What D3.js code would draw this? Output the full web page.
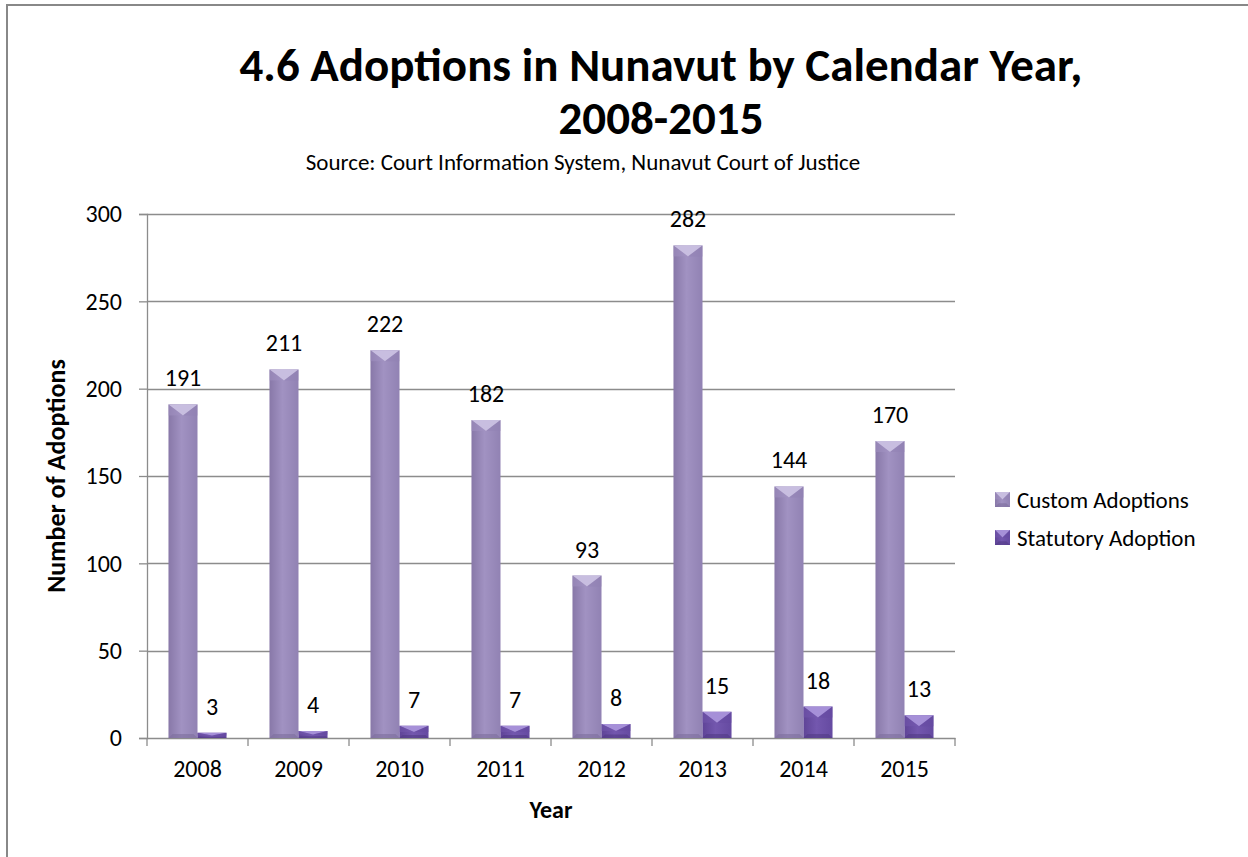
<!DOCTYPE html>
<html>
<head>
<meta charset="utf-8">
<script src="https://cdnjs.cloudflare.com/ajax/libs/d3/7.8.5/d3.min.js"></script>
<style>
  html, body { margin: 0; padding: 0; background: #fff; }
  svg { display: block; }
  text { font-family: Carlito, Calibri, Lato, "Open Sans", sans-serif; fill: #000; }
</style>
</head>
<body>
<svg id="chart" width="1248" height="857"></svg>
<script>
// ---- data ----
const years = ["2008", "2009", "2010", "2011", "2012", "2013", "2014", "2015"];
const seriesNames = ["Custom Adoptions", "Statutory Adoption"];
const customAdoptions = [191, 211, 222, 182, 93, 282, 144, 170];
const statutoryAdoption = [3, 4, 7, 7, 8, 15, 18, 13];
const yTicks = [0, 50, 100, 150, 200, 250, 300];

const titleLines = ["4.6 Adoptions in Nunavut by Calendar Year,", "2008-2015"];
const subtitle = "Source: Court Information System, Nunavut Court of Justice";
const xTitle = "Year";
const yTitle = "Number of Adoptions";

// ---- layout ----
const svg = d3.select("#chart");
const plot = { left: 147, right: 955, top: 214, bottom: 738 };
const FONT = "Carlito, Calibri, Lato, sans-serif";

const palette = {
  "Custom Adoptions": { left: "#8878a8", mid: "#a192c2", right: "#9182b3", top: "#c8bee0", bottom: "#7d6e9c" },
  "Statutory Adoption": { left: "#5f4497", mid: "#7357ae", right: "#654aa1", top: "#a690d8", bottom: "#523b86" }
};

// gradients
const defs = svg.append("defs");
seriesNames.forEach((s, i) => {
  const c = palette[s];
  const g = defs.append("linearGradient").attr("id", "grad" + i)
    .attr("x1", "0%").attr("x2", "100%").attr("y1", "0%").attr("y2", "0%");
  g.append("stop").attr("offset", "0%").attr("stop-color", c.left);
  g.append("stop").attr("offset", "45%").attr("stop-color", c.mid);
  g.append("stop").attr("offset", "100%").attr("stop-color", c.right);
});

// outer border
svg.append("rect").attr("x", 7).attr("y", 5).attr("width", 1260).attr("height", 900)
  .attr("fill", "none").attr("stroke", "#888").attr("stroke-width", 2);

// scales
const x = d3.scaleBand().domain(years).range([plot.left, plot.right]).padding(0);
const xs = d3.scaleBand().domain(seriesNames).range([0, x.bandwidth()]).paddingInner(0).paddingOuter(0.74);
const y = d3.scaleLinear().domain([0, 300]).range([plot.bottom, plot.top]);

// gridlines
svg.append("g").selectAll("line").data(yTicks.filter(d => d > 0)).join("line")
  .attr("x1", plot.left).attr("x2", plot.right)
  .attr("y1", d => Math.round(y(d)) + 0.5).attr("y2", d => Math.round(y(d)) + 0.5)
  .attr("stroke", "#8c8c8c").attr("stroke-width", 1.3);

// y axis
const yAxis = svg.append("g").attr("transform", `translate(${plot.left},0)`)
  .call(d3.axisLeft(y).tickValues(yTicks).tickSize(8).tickPadding(17).tickFormat(d3.format("d")));
yAxis.select(".domain").attr("stroke", "#8c8c8c").attr("stroke-width", 1.3);
yAxis.selectAll(".tick line").attr("stroke", "#8c8c8c").attr("stroke-width", 1.3);
yAxis.selectAll(".tick text").attr("font-size", 24).attr("font-family", FONT).attr("fill", "#000");

// x axis
const xAxis = svg.append("g").attr("transform", `translate(0,${plot.bottom})`)
  .call(d3.axisBottom(x).tickSize(0).tickPadding(22));
xAxis.select(".domain").attr("stroke", "#8c8c8c").attr("stroke-width", 1.3);
xAxis.selectAll(".tick text").attr("font-size", 24).attr("font-family", FONT).attr("fill", "#000");
// boundary ticks
const bounds = years.map(d => x(d)).concat([x(years[years.length - 1]) + x.bandwidth()]);
svg.append("g").selectAll("line").data(bounds).join("line")
  .attr("x1", d => d).attr("x2", d => d)
  .attr("y1", plot.bottom).attr("y2", plot.bottom + 8)
  .attr("stroke", "#8c8c8c").attr("stroke-width", 1.3);

// bars with bevel
function drawBar(g, bx, by, w, h, s, idx) {
  const c = palette[s];
  const d = Math.min(11, h / 2);
  const db = Math.min(4, h / 4);
  g.append("rect").attr("x", bx).attr("y", by).attr("width", w).attr("height", h)
    .attr("fill", `url(#grad${idx})`);
  g.append("polygon")
    .attr("points", [[bx, by + h], [bx + w, by + h], [bx + w - db, by + h - db], [bx + db, by + h - db]].map(p => p.join(",")).join(" "))
    .attr("fill", c.bottom).attr("opacity", 0.6);
  g.append("polygon")
    .attr("points", [[bx, by], [bx + w, by], [bx + w / 2, by + d]].map(p => p.join(",")).join(" "))
    .attr("fill", c.top);
  g.append("polygon")
    .attr("points", [[bx, by], [bx + w / 2, by + d], [bx, by + d]].map(p => p.join(",")).join(" "))
    .attr("fill", c.mid).attr("opacity", 0.5);
  g.append("polygon")
    .attr("points", [[bx + w, by], [bx + w / 2, by + d], [bx + w, by + d]].map(p => p.join(",")).join(" "))
    .attr("fill", c.right).attr("opacity", 0.5);
}

const seriesData = [customAdoptions, statutoryAdoption];
const barsG = svg.append("g");
seriesNames.forEach((s, si) => {
  seriesData[si].forEach((v, i) => {
    const bx = x(years[i]) + xs(s);
    const w = xs.bandwidth();
    const by = y(v);
    const h = y(0) - y(v);
    drawBar(barsG, bx, by, w, h, s, si);
    barsG.append("text")
      .attr("x", bx + w / 2).attr("y", by - 18)
      .attr("text-anchor", "middle").attr("font-size", 24)
      .text(v);
  });
});

// titles
svg.append("text").attr("x", 661).attr("y", 81).attr("text-anchor", "middle")
  .attr("font-size", 47).attr("font-weight", "bold").text(titleLines[0]);
svg.append("text").attr("x", 661).attr("y", 134).attr("text-anchor", "middle")
  .attr("font-size", 47).attr("font-weight", "bold").text(titleLines[1]);
svg.append("text").attr("x", 583).attr("y", 170).attr("text-anchor", "middle")
  .attr("font-size", 23).text(subtitle);

// axis titles
svg.append("text").attr("x", 551).attr("y", 818).attr("text-anchor", "middle")
  .attr("font-size", 24).attr("font-weight", "bold").text(xTitle);
svg.append("text").attr("transform", "translate(65,476) rotate(-90)").attr("text-anchor", "middle")
  .attr("font-size", 26).attr("font-weight", "bold").text(yTitle);

// legend
const legend = svg.append("g");
seriesNames.forEach((s, i) => {
  const ly = 500 + i * 38;
  drawBar(legend, 995, ly - 8, 15, 15, s, i);
  legend.append("text").attr("x", 1017).attr("y", ly).attr("dominant-baseline", "central")
    .attr("font-size", 23).text(s);
});
</script>
</body>
</html>
